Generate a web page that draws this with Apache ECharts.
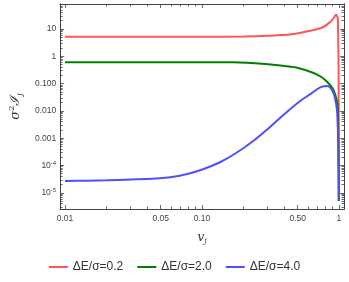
<!DOCTYPE html>
<html><head><meta charset="utf-8">
<script src="https://cdn.jsdelivr.net/npm/echarts@6/dist/echarts.min.js"></script>
<style>html,body{margin:0;padding:0;background:#fff}#c{width:349px;height:282px}</style>
</head><body><div id="c"></div>
<script>
// ---- data ----
const vRed   = [0.01,0.05,0.1,0.2,0.3,0.45,0.654,0.77,0.863,0.91,0.945,0.96,0.975,0.984,0.99,0.995,0.998,0.9995];
const red    = [5.2,5.2,5.2,5.3,5.6,6.4,9.2,11.8,18,24,32,33,28,21,3,0.4,1e-3,5e-6];
const vGreen = [0.01,0.05,0.1,0.17,0.289,0.4,0.504,0.654,0.75,0.822,0.906,0.95,0.975,0.985,0.992,0.996,0.9995];
const green  = [0.606,0.606,0.605,0.6,0.523,0.44,0.372,0.244,0.17,0.1145,0.0634,0.033,0.0195,0.008,1e-3,1e-4,5e-6];
const vBlue  = [0.01,0.0146,0.0202,0.0304,0.0457,0.0603,0.0782,0.1031,0.1366,0.1776,0.2341,0.3085,0.4006,0.5278,0.6228,0.6983,0.7577,0.8221,0.8632,0.9068,0.9368,0.9679,0.984,0.992,0.996,0.999];
const blue   = [2.7e-5,2.77e-5,2.87e-5,3.07e-5,3.34e-5,3.79e-5,4.89e-5,7.45e-5,1.34e-4,2.87e-4,7.57e-4,2.37e-3,7.7e-3,0.024,0.0417,0.0634,0.0784,0.0817,0.072,0.0492,0.0297,0.011,2e-3,2e-4,3e-5,5.5e-6];
const seriesNames = ['ΔE/σ=0.2','ΔE/σ=2.0','ΔE/σ=4.0'];
const xMajor = [0.01,0.05,0.1,0.5,1];
const xMajorLabels = ['0.01','0.05','0.10','0.50','1'];
const xMinor = [0.02,0.03,0.04,0.06,0.07,0.08,0.09,0.2,0.3,0.4,0.6,0.7,0.8,0.9];
const yMajor = [10,1,0.1,0.01,0.001,1e-4,1e-5];
const yMajorLabels = ['10','1','0.100','0.010','0.001','10{s|-4}','10{s|-5}'];
const yMinorMult = [2,3,4,5,6,7,8,9];
const yMinorExp = [-6,-5,-4,-3,-2,-1,0,1];

// ---- build ----
const yMinor = [];
yMinorExp.forEach(e => yMinorMult.forEach(m => yMinor.push(m*Math.pow(10,e))));
const X_MIN = 0.00922, X_MAX = 1.09, Y_MIN = 2.55e-6, Y_MAX = 82;
const axisCol = '#444';
function close(a,b){return Math.abs(Math.log10(a)-Math.log10(b))<1e-6;}
function xAx(pos, vals, len, labels){
  return {type:'log', logBase:10, position:pos, min:X_MIN, max:X_MAX,
    axisLine:{show:true, onZero:false, lineStyle:{color:axisCol,width:1}},
    axisTick:{show:true, inside:true, length:len, customValues:vals, lineStyle:{color:axisCol,width:0.8}},
    axisLabel:{show:!!labels, customValues:vals, fontSize:8.5, color:'#444', margin:5, fontFamily:'Liberation Sans',
      formatter:v=>{for(let i=0;i<xMajor.length;i++) if(close(v,xMajor[i])) return xMajorLabels[i]; return '';}},
    splitLine:{show:false}, minorTick:{show:false}};
}
function yAx(pos, vals, len, labels){
  return {type:'log', logBase:10, position:pos, min:Y_MIN, max:Y_MAX,
    axisLine:{show:true, onZero:false, lineStyle:{color:axisCol,width:1}},
    axisTick:{show:true, inside:true, length:len, customValues:vals, lineStyle:{color:axisCol,width:0.8}},
    axisLabel:{show:!!labels, customValues:vals, fontSize:8.5, color:'#444', margin:4, fontFamily:'Liberation Sans',
      rich:{s:{fontSize:6, verticalAlign:'top', padding:[0,0,5,0], color:'#444'}},
      formatter:v=>{for(let i=0;i<yMajor.length;i++) if(close(v,yMajor[i])) return yMajorLabels[i]; return '';}},
    splitLine:{show:false}, minorTick:{show:false}};
}
const xAxes = [xAx('bottom', xMajor, 4, true), xAx('bottom', xMinor, 2.5, false), xAx('top', xMajor, 4, false), xAx('top', xMinor, 2.5, false)];
const yAxes = [yAx('left', yMajor, 4, true), yAx('left', yMinor, 2.5, false), yAx('right', yMajor, 4, false), yAx('right', yMinor, 2.5, false)];
xAxes[0].name = '{i|v}{sb|j}';
xAxes[0].nameLocation = 'middle';
xAxes[0].nameGap = 22;
xAxes[0].nameTextStyle = {rich:{i:{fontSize:12, fontStyle:'italic', fontFamily:'DejaVu Serif', color:'#333'}, sb:{fontSize:8, fontStyle:'italic', fontFamily:'DejaVu Serif', verticalAlign:'bottom', padding:[6,0,0,0], color:'#333'}}};
yAxes[0].name = '{i|σ}{sp|2}{i|ℐ}{sb|j}';
yAxes[0].nameLocation = 'middle';
yAxes[0].nameGap = 33;
yAxes[0].nameTextStyle = {rich:{i:{fontSize:13, fontStyle:'italic', fontFamily:'DejaVu Serif', color:'#333'}, sp:{fontSize:8, fontFamily:'DejaVu Serif', verticalAlign:'top', padding:[0,0,8,0], color:'#333'}, sb:{fontSize:8, fontStyle:'italic', fontFamily:'DejaVu Serif', verticalAlign:'bottom', padding:[6,0,0,0], color:'#333'}}};

function mk(vs, ys){ return vs.map((v,i)=>[v, ys[i]]); }
const colors = ['#ff5555','#008000','#4f4fff'];
const datas = [mk(vRed,red), mk(vGreen,green), mk(vBlue,blue)];
const series = seriesNames.map((n,i)=>({name:n, type:'line', xAxisIndex:0, yAxisIndex:0, data:datas[i], smooth:0.3,
  symbol:'none', lineStyle:{color:colors[i], width:2}, itemStyle:{color:colors[i]}, z:2+i}));

const chart = echarts.init(document.getElementById('c'), null, {renderer:'canvas'});
chart.setOption({
  animation:false,
  backgroundColor:'#fff',
  grid:{left:52, right:5, top:4, bottom:73, containLabel:false},
  xAxis:xAxes, yAxis:yAxes,
  legend:{bottom:4, left:'center', icon:'rect', itemWidth:19, itemHeight:2, itemGap:14,
    textStyle:{fontSize:12, color:'#333', fontFamily:'Liberation Sans'}, data:seriesNames},
  series:series
});
</script></body></html>
